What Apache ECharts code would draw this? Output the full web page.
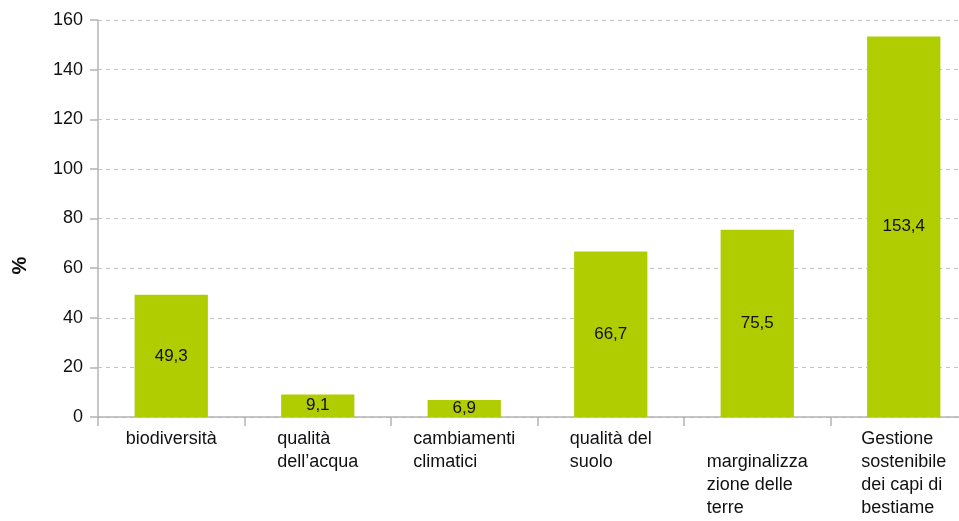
<!DOCTYPE html>
<html>
<head>
<meta charset="utf-8">
<script src="https://cdn.jsdelivr.net/npm/echarts@6/dist/echarts.min.js"></script>
<style>html,body{margin:0;padding:0;background:#fff;}#c{width:959px;height:521px;}</style>
</head>
<body>
<div id="c"></div>
<script>
var categories = [
  'biodiversità',
  'qualità\ndell\u2019acqua',
  'cambiamenti\nclimatici',
  'qualità del\nsuolo',
  '\nmarginalizza\nzione delle\nterre',
  'Gestione\nsostenibile\ndei capi di\nbestiame'
];
var values = [49.3, 9.1, 6.9, 66.7, 75.5, 153.4];
var yTicks = [0, 20, 40, 60, 80, 100, 120, 140, 160];

var FONT = 'Liberation Sans, Arial, sans-serif';
var chart = echarts.init(document.getElementById('c'));
chart.setOption({
  animation: false,
  grid: { left: 98, top: 20, width: 879, height: 397, containLabel: false, outerBoundsMode: 'none' },
  xAxis: {
    type: 'category',
    data: categories,
    boundaryGap: true,
    axisLine: { lineStyle: { color: '#b4b4b4', width: 1.5 } },
    axisTick: { show: true, length: 9, alignWithLabel: false, lineStyle: { color: '#b4b4b4', width: 1.5 } },
    axisLabel: {
      interval: 0,
      margin: 11,
      color: '#111',
      fontFamily: FONT,
      fontSize: 18,
      lineHeight: 23,
      formatter: function (v) {
        return v.split('\n').map(function (l) { return '{l|' + l + '}'; }).join('\n');
      },
      rich: { l: { align: 'left', fontSize: 18, lineHeight: 23, color: '#111', fontFamily: FONT } }
    }
  },
  yAxis: {
    type: 'value',
    min: yTicks[0],
    max: yTicks[yTicks.length - 1],
    interval: 20,
    name: '%',
    nameLocation: 'middle',
    nameRotate: 90,
    nameGap: 68,
    nameTextStyle: { fontSize: 20, fontWeight: 'bold', color: '#111', fontFamily: FONT, padding: [0, 94, 0, 0] },
    axisLine: { show: true, lineStyle: { color: '#b4b4b4', width: 1.5 } },
    axisTick: { show: true, length: 8, lineStyle: { color: '#b4b4b4', width: 1.5 } },
    axisLabel: { margin: 15, color: '#111', fontSize: 18, fontFamily: FONT },
    splitLine: { show: true, lineStyle: { color: '#c4c4c4', type: [4, 4], width: 1 } }
  },
  series: [{
    type: 'bar',
    data: values,
    barWidth: '50%',
    itemStyle: { color: '#afcd00' },
    label: {
      show: true,
      position: 'inside',
      color: '#111',
      fontSize: 17,
      fontFamily: FONT,
      formatter: function (p) { return String(p.value).replace('.', ','); }
    }
  }]
});
</script>
</body>
</html>
